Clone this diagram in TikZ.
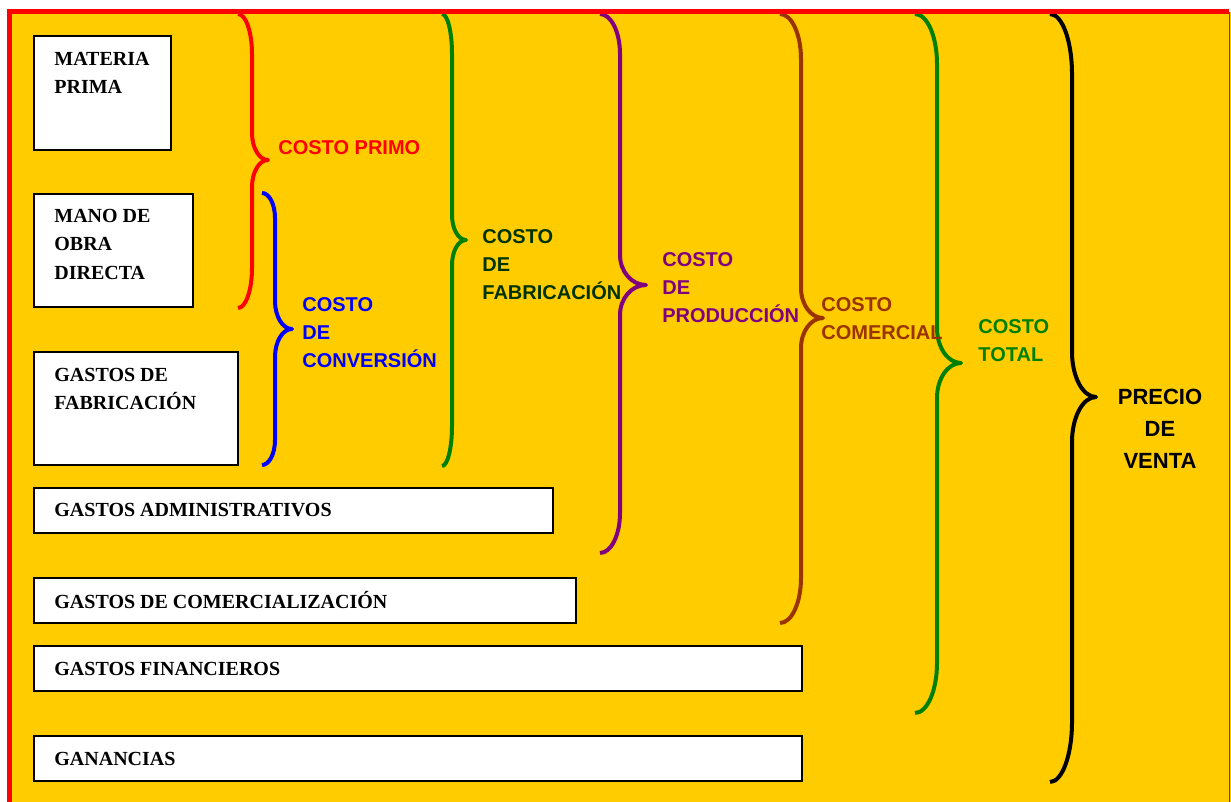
\documentclass[tikz,border=0pt]{standalone}
\usepackage{fontspec}
\setmainfont{Liberation Serif}
\setsansfont{Liberation Sans}
\definecolor{fondo}{RGB}{255,204,0}
\definecolor{verdeosc}{RGB}{0,51,0}
\definecolor{verde}{RGB}{0,128,0}
\definecolor{morado}{RGB}{128,0,128}
\definecolor{cafe}{RGB}{153,51,0}
% llave: color, x extremo, x lomo, x punta, y arriba, y punta, y abajo, radio extremo, radio punta
\newcommand{\llave}[9]{%
	\draw[llave,#1] (#2,#5) .. controls ({#2+0.552*(#3-#2)},#5) and (#3,{#5+0.448*#8}) .. (#3,{#5+#8})
		-- (#3,{#6-#9}) .. controls (#3,{#6-0.448*#9}) and ({#4-0.552*(#4-#3)},#6) .. (#4,#6)
		.. controls ({#4-0.552*(#4-#3)},#6) and (#3,{#6+0.448*#9}) .. (#3,{#6+#9})
		-- (#3,{#7-#8}) .. controls (#3,{#7-0.448*#8}) and ({#2+0.552*(#3-#2)},#7) .. (#2,#7);}

\begin{document}
\begin{tikzpicture}[x=0.5pt,y=-0.5pt,
	caja/.style={draw=black,line width=0.9pt,fill=white},
	txtcaja/.style={font=\bfseries\fontsize{10}{14.3}\selectfont,inner sep=0pt,align=left},
	etiqueta/.style={font=\sffamily\bfseries\fontsize{10}{14}\selectfont,inner sep=0pt,align=left},
	llave/.style={line width=2pt,line join=round}]
		\useasboundingbox (0,0) rectangle (1231,802);
		\fill[fondo] (9.7,11.7) rectangle (1231,802);
		% cajas
		\draw[caja] (34,36) rectangle (171,150);
		\draw[caja] (34,194) rectangle (193,307);
		\draw[caja] (34,352) rectangle (238,465);
		\draw[caja] (34,488) rectangle (553,533);
		\draw[caja] (34,578) rectangle (576,623);
		\draw[caja] (34,646) rectangle (802,691);
		\draw[caja] (34,736) rectangle (802,781);
		\node[txtcaja,anchor=north west] (mp) at (54,51.5) {MATERIA\\PRIMA};
		\node[txtcaja,anchor=north west] (mod) at (54,208.5) {MANO DE\\OBRA\\DIRECTA};
		\node[txtcaja,anchor=north west] (gf) at (54,367.5) {GASTOS DE\\FABRICACIÓN};
		\node[txtcaja,anchor=west] (ga) at (54,510.5) {GASTOS ADMINISTRATIVOS};
		\node[txtcaja,anchor=west] (gc) at (54,600.5) {GASTOS DE COMERCIALIZACIÓN};
		\node[txtcaja,anchor=west] (gfin) at (54,668.5) {GASTOS FINANCIEROS};
		\node[txtcaja,anchor=west] (gan) at (54,758.5) {GANANCIAS};
		% llaves
		\llave{red}{238}{252}{268}{14}{160}{308}{40}{27}
		\llave{blue}{262}{275}{292}{193}{329}{465}{25}{28}
		\llave{verde}{442}{452}{466}{14}{240}{466}{40}{25}
		\llave{morado}{600}{620}{646}{14}{285}{553}{40}{30}
		\llave{cafe}{780}{801}{823}{14}{318}{623}{45}{30}
		\llave{verde}{915}{937}{961}{14}{363}{713}{50}{35}
		\llave{black}{1050}{1072}{1096}{14}{397}{782}{60}{45}
		% etiquetas
		\node[etiqueta,red,anchor=west] (cprimo) at (278,148) {COSTO PRIMO};
		\node[etiqueta,blue,anchor=west] (cconv) at (302,333) {COSTO\\DE\\CONVERSIÓN};
		\node[etiqueta,verdeosc,anchor=west] (cfab) at (482,265) {COSTO\\DE\\FABRICACIÓN};
		\node[etiqueta,morado,anchor=west] (cprod) at (662,288) {COSTO\\DE\\PRODUCCIÓN};
		\node[etiqueta,cafe,anchor=west] (ccom) at (821,319) {COSTO\\COMERCIAL};
		\node[etiqueta,verde,anchor=west] (ctot) at (978,341) {COSTO\\TOTAL};
		\node[etiqueta,black,align=center,font=\sffamily\bfseries\fontsize{11}{16}\selectfont] (pv) at (1160,429) {PRECIO\\DE\\VENTA};
		% marco
		\draw[red,line width=2.3pt] (9.7,802) -- (9.7,11.7) -- (1229,11.7);
		\draw[red,line width=0.5pt] (1229,11.7) -- (1229,802);
\end{tikzpicture}
\end{document}
